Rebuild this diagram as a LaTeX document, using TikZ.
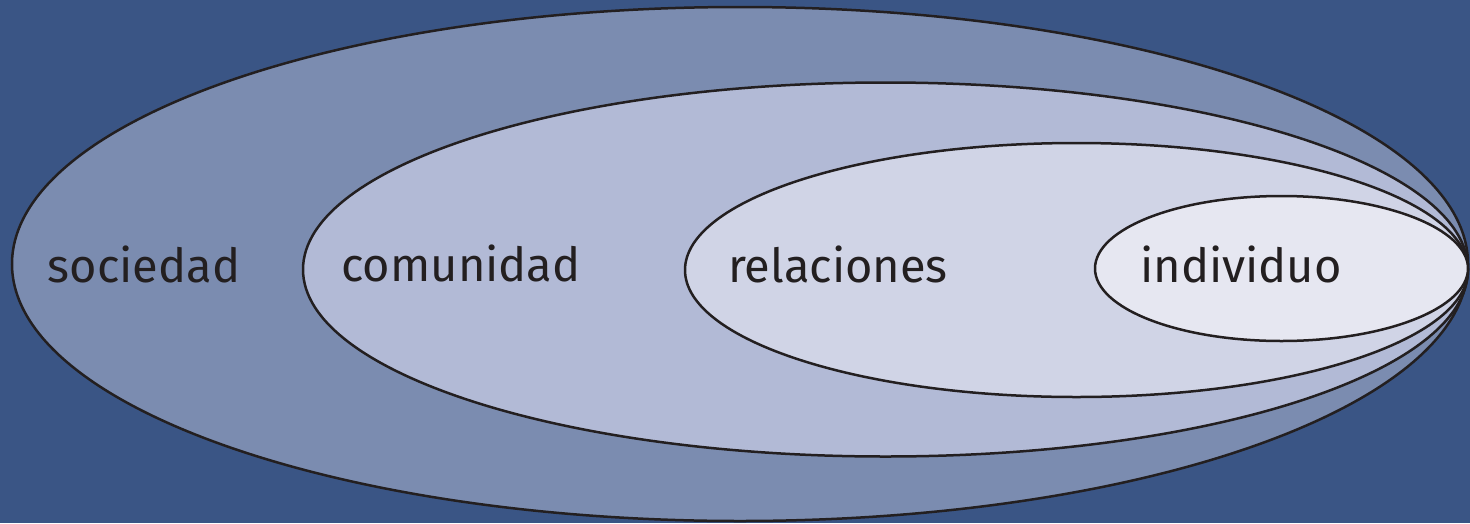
\documentclass[tikz,border=0pt]{standalone}
\usepackage{fontspec}
\setmainfont{Fira Sans}
\definecolor{bgblue}{HTML}{3A5585}
\definecolor{ringA}{HTML}{7B8CB0}
\definecolor{ringB}{HTML}{B2BAD6}
\definecolor{ringC}{HTML}{D0D4E6}
\definecolor{ringD}{HTML}{E6E7F1}
\definecolor{ink}{HTML}{231F20}
\begin{document}
\begin{tikzpicture}[x=1pt,y=-1pt,
  ring/.style={draw=ink,line width=2.5pt},
  lbl/.style={text=ink,font=\fontsize{47}{50}\selectfont,anchor=base,inner sep=0pt}]
\fill[bgblue] (0,0) rectangle (1470,523);
\useasboundingbox (0,0) rectangle (1470,523);
\path[ring,fill=ringA] (740,264) ellipse [x radius=728pt, y radius=257pt];
\path[ring,fill=ringB] (885.5,269.5) ellipse [x radius=582.5pt, y radius=187pt];
\path[ring,fill=ringC] (1076.5,270) ellipse [x radius=391.5pt, y radius=127pt];
\path[ring,fill=ringD] (1281.5,268.5) ellipse [x radius=186.5pt, y radius=72.5pt];
\node[lbl] (soc) at (144,282) {sociedad};
\node[lbl] (com) at (461,281) {comunidad};
\node[lbl] (rel) at (838,282) {relaciones};
\node[lbl] (ind) at (1241,282) {individuo};
\end{tikzpicture}
\end{document}
